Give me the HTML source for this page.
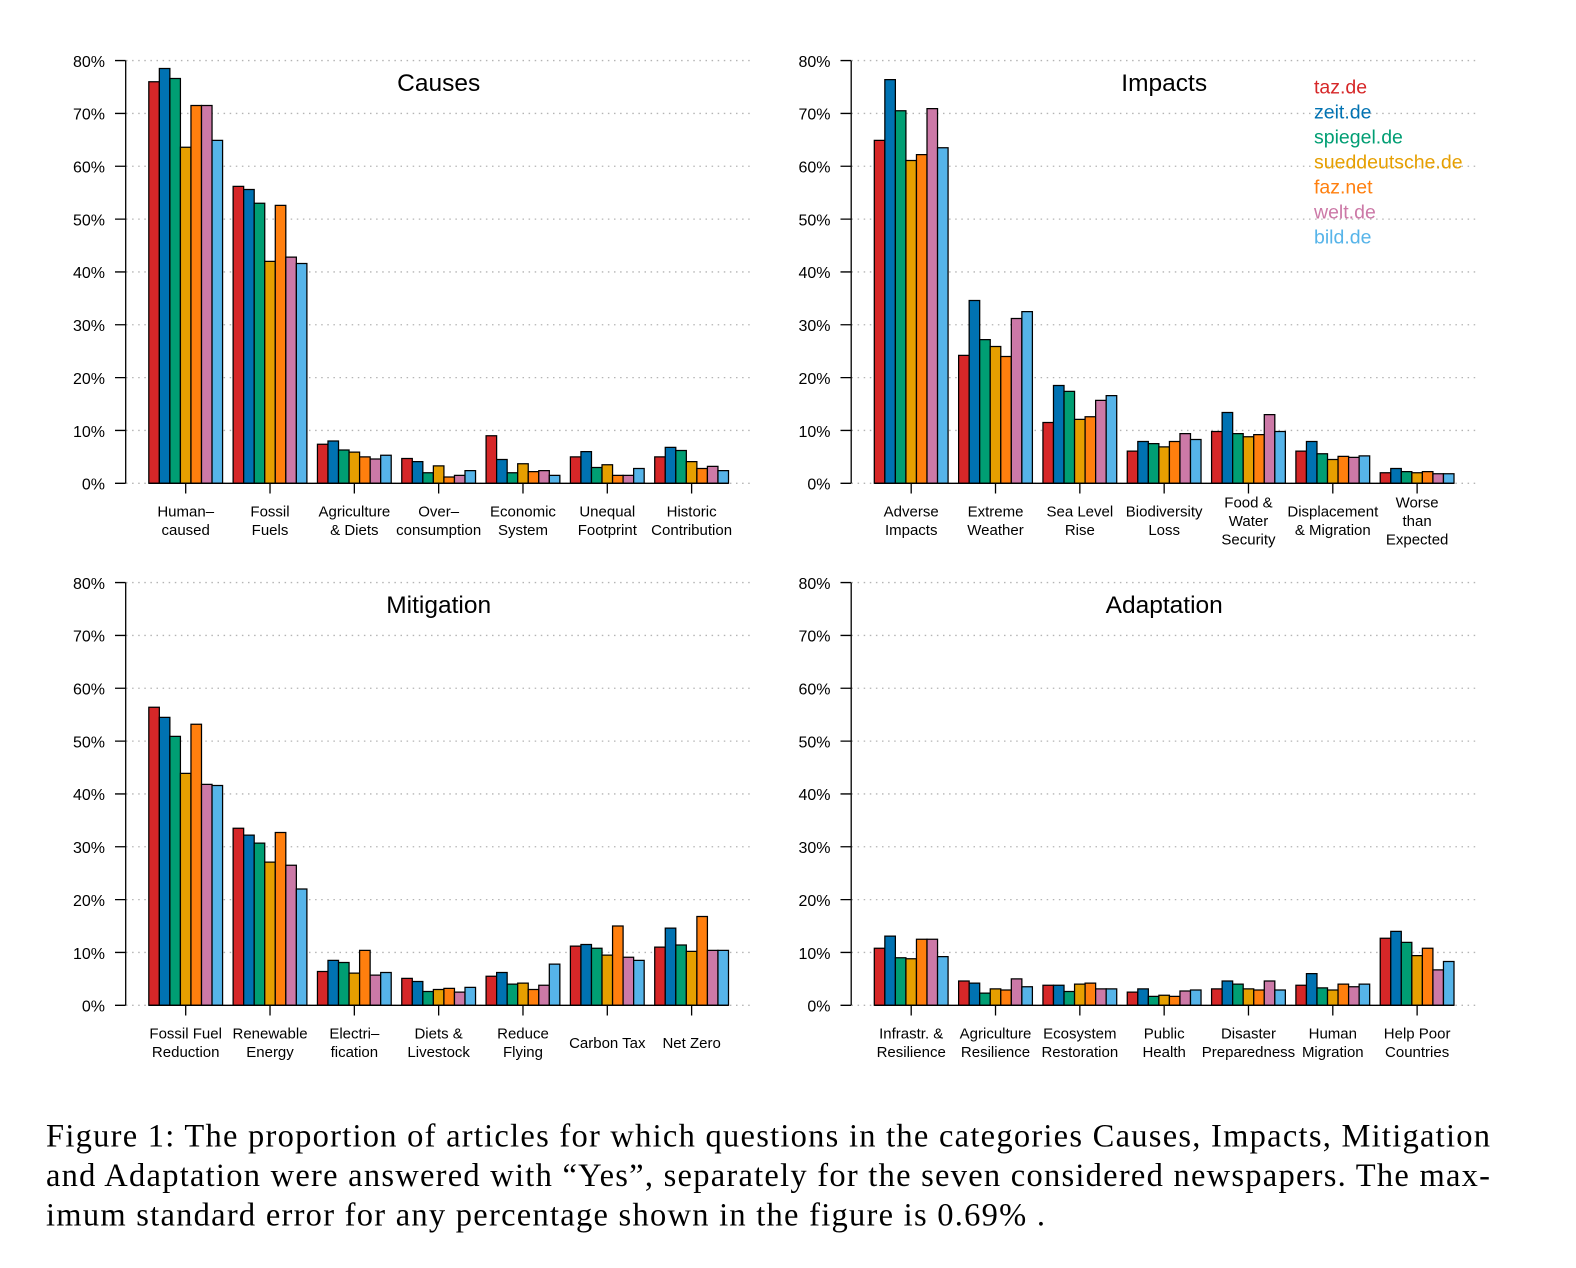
<!DOCTYPE html>
<html>
<head>
<meta charset="utf-8">
<style>
  html, body { margin: 0; padding: 0; background: #ffffff; }
  svg { display: block; }
  .sans { font-family: "Liberation Sans", Arial, Helvetica, sans-serif; }
  .serif { font-family: "Liberation Serif", "Times New Roman", serif; }
  .grid { stroke: #b4b4b4; stroke-width: 1.3; stroke-dasharray: 1.5 4.6; fill: none; }
  .ax { stroke: #000; stroke-width: 1.3; fill: none; }
  .bars rect { stroke: #000; stroke-width: 1.25; vector-effect: non-scaling-stroke; }
  .c0 { fill: #D62728; }
  .c1 { fill: #0072B2; }
  .c2 { fill: #009E73; }
  .c3 { fill: #E69F00; }
  .c4 { fill: #FF7F0E; }
  .c5 { fill: #CC79A7; }
  .c6 { fill: #56B4E9; }
  .tl { font-size: 16px; text-anchor: end; fill: #000; }
  .gl { font-size: 15px; text-anchor: middle; fill: #000; }
  .tt { font-size: 24.5px; text-anchor: middle; fill: #000; }
  .lg { font-size: 19.5px; }
</style>
</head>
<body>
<svg width="1576" height="1268" viewBox="0 0 1576 1268" xmlns="http://www.w3.org/2000/svg">
<rect x="0" y="0" width="1576" height="1268" fill="#ffffff"/>

<defs>
  <g id="frame">
    <path class="grid" d="M126 483.3H751.7M126 430.46H751.7M126 377.62H751.7M126 324.78H751.7M126 271.94H751.7M126 219.1H751.7M126 166.26H751.7M126 113.42H751.7M126 60.58H751.7"/>
  </g>
  <g id="axes">
    <path class="ax" d="M125.7 60.58V483.3M115 483.3H125.7M115 430.46H125.7M115 377.62H125.7M115 324.78H125.7M115 271.94H125.7M115 219.1H125.7M115 166.26H125.7M115 113.42H125.7M115 60.58H125.7"/>
    <path class="ax" d="M148.8 483.3H728.5M185.7 483.3V493.5M270.02 483.3V493.5M354.34 483.3V493.5M438.66 483.3V493.5M522.98 483.3V493.5M607.3 483.3V493.5M691.62 483.3V493.5"/>
  </g>
</defs>

<!-- ================= PANEL 1: Causes ================= -->
<g>
  <use href="#frame"/>
  <g class="bars" transform="translate(148.8,483.3) scale(10.54,-5.284)">
    <rect x="0" width="1" height="76.0" class="c0"/><rect x="1" width="1" height="78.5" class="c1"/><rect x="2" width="1" height="76.6" class="c2"/><rect x="3" width="1" height="63.6" class="c3"/><rect x="4" width="1" height="71.5" class="c4"/><rect x="5" width="1" height="71.5" class="c5"/><rect x="6" width="1" height="64.9" class="c6"/>
    <rect x="8" width="1" height="56.2" class="c0"/><rect x="9" width="1" height="55.6" class="c1"/><rect x="10" width="1" height="53.0" class="c2"/><rect x="11" width="1" height="42.0" class="c3"/><rect x="12" width="1" height="52.6" class="c4"/><rect x="13" width="1" height="42.8" class="c5"/><rect x="14" width="1" height="41.6" class="c6"/>
    <rect x="16" width="1" height="7.4" class="c0"/><rect x="17" width="1" height="8.0" class="c1"/><rect x="18" width="1" height="6.3" class="c2"/><rect x="19" width="1" height="5.9" class="c3"/><rect x="20" width="1" height="5.0" class="c4"/><rect x="21" width="1" height="4.6" class="c5"/><rect x="22" width="1" height="5.3" class="c6"/>
    <rect x="24" width="1" height="4.7" class="c0"/><rect x="25" width="1" height="4.1" class="c1"/><rect x="26" width="1" height="2.0" class="c2"/><rect x="27" width="1" height="3.3" class="c3"/><rect x="28" width="1" height="1.2" class="c4"/><rect x="29" width="1" height="1.5" class="c5"/><rect x="30" width="1" height="2.4" class="c6"/>
    <rect x="32" width="1" height="9.0" class="c0"/><rect x="33" width="1" height="4.5" class="c1"/><rect x="34" width="1" height="2.0" class="c2"/><rect x="35" width="1" height="3.7" class="c3"/><rect x="36" width="1" height="2.2" class="c4"/><rect x="37" width="1" height="2.4" class="c5"/><rect x="38" width="1" height="1.5" class="c6"/>
    <rect x="40" width="1" height="5.0" class="c0"/><rect x="41" width="1" height="6.0" class="c1"/><rect x="42" width="1" height="3.0" class="c2"/><rect x="43" width="1" height="3.5" class="c3"/><rect x="44" width="1" height="1.5" class="c4"/><rect x="45" width="1" height="1.5" class="c5"/><rect x="46" width="1" height="2.8" class="c6"/>
    <rect x="48" width="1" height="5.0" class="c0"/><rect x="49" width="1" height="6.8" class="c1"/><rect x="50" width="1" height="6.2" class="c2"/><rect x="51" width="1" height="4.1" class="c3"/><rect x="52" width="1" height="2.8" class="c4"/><rect x="53" width="1" height="3.2" class="c5"/><rect x="54" width="1" height="2.4" class="c6"/>
  </g>
  <use href="#axes"/>
  <g class="sans">
    <text class="tl" x="105" y="66.9">80%</text><text class="tl" x="105" y="119.7">70%</text><text class="tl" x="105" y="172.6">60%</text><text class="tl" x="105" y="225.4">50%</text><text class="tl" x="105" y="278.2">40%</text><text class="tl" x="105" y="331.1">30%</text><text class="tl" x="105" y="383.9">20%</text><text class="tl" x="105" y="436.8">10%</text><text class="tl" x="105" y="489.6">0%</text>
    <text class="tt" x="438.7" y="91">Causes</text>
    <text class="gl" x="185.7" y="516.7">Human–</text><text class="gl" x="185.7" y="535">caused</text>
    <text class="gl" x="270.02" y="516.7">Fossil</text><text class="gl" x="270.02" y="535">Fuels</text>
    <text class="gl" x="354.34" y="516.7">Agriculture</text><text class="gl" x="354.34" y="535">&amp; Diets</text>
    <text class="gl" x="438.66" y="516.7">Over–</text><text class="gl" x="438.66" y="535">consumption</text>
    <text class="gl" x="522.98" y="516.7">Economic</text><text class="gl" x="522.98" y="535">System</text>
    <text class="gl" x="607.3" y="516.7">Unequal</text><text class="gl" x="607.3" y="535">Footprint</text>
    <text class="gl" x="691.62" y="516.7">Historic</text><text class="gl" x="691.62" y="535">Contribution</text>
  </g>
</g>

<!-- ================= PANEL 2: Impacts ================= -->
<g transform="translate(725.5,0)">
  <use href="#frame"/>
  <g class="bars" transform="translate(148.8,483.3) scale(10.54,-5.284)">
    <rect x="0" width="1" height="64.9" class="c0"/><rect x="1" width="1" height="76.4" class="c1"/><rect x="2" width="1" height="70.5" class="c2"/><rect x="3" width="1" height="61.1" class="c3"/><rect x="4" width="1" height="62.2" class="c4"/><rect x="5" width="1" height="70.9" class="c5"/><rect x="6" width="1" height="63.5" class="c6"/>
    <rect x="8" width="1" height="24.2" class="c0"/><rect x="9" width="1" height="34.6" class="c1"/><rect x="10" width="1" height="27.2" class="c2"/><rect x="11" width="1" height="25.9" class="c3"/><rect x="12" width="1" height="24.0" class="c4"/><rect x="13" width="1" height="31.2" class="c5"/><rect x="14" width="1" height="32.5" class="c6"/>
    <rect x="16" width="1" height="11.5" class="c0"/><rect x="17" width="1" height="18.5" class="c1"/><rect x="18" width="1" height="17.4" class="c2"/><rect x="19" width="1" height="12.1" class="c3"/><rect x="20" width="1" height="12.6" class="c4"/><rect x="21" width="1" height="15.7" class="c5"/><rect x="22" width="1" height="16.6" class="c6"/>
    <rect x="24" width="1" height="6.1" class="c0"/><rect x="25" width="1" height="7.9" class="c1"/><rect x="26" width="1" height="7.5" class="c2"/><rect x="27" width="1" height="6.9" class="c3"/><rect x="28" width="1" height="7.9" class="c4"/><rect x="29" width="1" height="9.4" class="c5"/><rect x="30" width="1" height="8.3" class="c6"/>
    <rect x="32" width="1" height="9.8" class="c0"/><rect x="33" width="1" height="13.4" class="c1"/><rect x="34" width="1" height="9.4" class="c2"/><rect x="35" width="1" height="8.8" class="c3"/><rect x="36" width="1" height="9.2" class="c4"/><rect x="37" width="1" height="13.0" class="c5"/><rect x="38" width="1" height="9.8" class="c6"/>
    <rect x="40" width="1" height="6.1" class="c0"/><rect x="41" width="1" height="7.9" class="c1"/><rect x="42" width="1" height="5.6" class="c2"/><rect x="43" width="1" height="4.5" class="c3"/><rect x="44" width="1" height="5.1" class="c4"/><rect x="45" width="1" height="4.9" class="c5"/><rect x="46" width="1" height="5.2" class="c6"/>
    <rect x="48" width="1" height="2.0" class="c0"/><rect x="49" width="1" height="2.8" class="c1"/><rect x="50" width="1" height="2.2" class="c2"/><rect x="51" width="1" height="2.0" class="c3"/><rect x="52" width="1" height="2.2" class="c4"/><rect x="53" width="1" height="1.8" class="c5"/><rect x="54" width="1" height="1.8" class="c6"/>
  </g>
  <use href="#axes"/>
  <g class="sans">
    <text class="tl" x="105" y="66.9">80%</text><text class="tl" x="105" y="119.7">70%</text><text class="tl" x="105" y="172.6">60%</text><text class="tl" x="105" y="225.4">50%</text><text class="tl" x="105" y="278.2">40%</text><text class="tl" x="105" y="331.1">30%</text><text class="tl" x="105" y="383.9">20%</text><text class="tl" x="105" y="436.8">10%</text><text class="tl" x="105" y="489.6">0%</text>
    <text class="tt" x="438.7" y="91">Impacts</text>
    <text class="gl" x="185.7" y="516.7">Adverse</text><text class="gl" x="185.7" y="535">Impacts</text>
    <text class="gl" x="270.02" y="516.7">Extreme</text><text class="gl" x="270.02" y="535">Weather</text>
    <text class="gl" x="354.34" y="516.7">Sea Level</text><text class="gl" x="354.34" y="535">Rise</text>
    <text class="gl" x="438.66" y="516.7">Biodiversity</text><text class="gl" x="438.66" y="535">Loss</text>
    <text class="gl" x="522.98" y="507.5">Food &amp;</text><text class="gl" x="522.98" y="525.9">Water</text><text class="gl" x="522.98" y="544.3">Security</text>
    <text class="gl" x="607.3" y="516.7">Displacement</text><text class="gl" x="607.3" y="535">&amp; Migration</text>
    <text class="gl" x="691.62" y="507.5">Worse</text><text class="gl" x="691.62" y="525.9">than</text><text class="gl" x="691.62" y="544.3">Expected</text>
  </g>
</g>

<!-- Legend -->
<g class="sans lg">
  <text x="1314" y="93.3" fill="#D62728">taz.de</text>
  <text x="1314" y="118.3" fill="#0072B2">zeit.de</text>
  <text x="1314" y="143.3" fill="#009E73">spiegel.de</text>
  <text x="1314" y="168.3" fill="#E69F00">sueddeutsche.de</text>
  <text x="1314" y="193.3" fill="#FF7F0E">faz.net</text>
  <text x="1314" y="218.3" fill="#CC79A7">welt.de</text>
  <text x="1314" y="243.3" fill="#56B4E9">bild.de</text>
</g>

<!-- ================= PANEL 3: Mitigation ================= -->
<g transform="translate(0,522)">
  <use href="#frame"/>
  <g class="bars" transform="translate(148.8,483.3) scale(10.54,-5.284)">
    <rect x="0" width="1" height="56.4" class="c0"/><rect x="1" width="1" height="54.5" class="c1"/><rect x="2" width="1" height="50.9" class="c2"/><rect x="3" width="1" height="43.9" class="c3"/><rect x="4" width="1" height="53.2" class="c4"/><rect x="5" width="1" height="41.8" class="c5"/><rect x="6" width="1" height="41.6" class="c6"/>
    <rect x="8" width="1" height="33.5" class="c0"/><rect x="9" width="1" height="32.2" class="c1"/><rect x="10" width="1" height="30.7" class="c2"/><rect x="11" width="1" height="27.1" class="c3"/><rect x="12" width="1" height="32.7" class="c4"/><rect x="13" width="1" height="26.5" class="c5"/><rect x="14" width="1" height="22.0" class="c6"/>
    <rect x="16" width="1" height="6.4" class="c0"/><rect x="17" width="1" height="8.5" class="c1"/><rect x="18" width="1" height="8.1" class="c2"/><rect x="19" width="1" height="6.1" class="c3"/><rect x="20" width="1" height="10.4" class="c4"/><rect x="21" width="1" height="5.7" class="c5"/><rect x="22" width="1" height="6.2" class="c6"/>
    <rect x="24" width="1" height="5.1" class="c0"/><rect x="25" width="1" height="4.5" class="c1"/><rect x="26" width="1" height="2.6" class="c2"/><rect x="27" width="1" height="3.0" class="c3"/><rect x="28" width="1" height="3.2" class="c4"/><rect x="29" width="1" height="2.5" class="c5"/><rect x="30" width="1" height="3.4" class="c6"/>
    <rect x="32" width="1" height="5.5" class="c0"/><rect x="33" width="1" height="6.2" class="c1"/><rect x="34" width="1" height="4.0" class="c2"/><rect x="35" width="1" height="4.2" class="c3"/><rect x="36" width="1" height="3.0" class="c4"/><rect x="37" width="1" height="3.8" class="c5"/><rect x="38" width="1" height="7.8" class="c6"/>
    <rect x="40" width="1" height="11.2" class="c0"/><rect x="41" width="1" height="11.5" class="c1"/><rect x="42" width="1" height="10.8" class="c2"/><rect x="43" width="1" height="9.5" class="c3"/><rect x="44" width="1" height="15.0" class="c4"/><rect x="45" width="1" height="9.1" class="c5"/><rect x="46" width="1" height="8.5" class="c6"/>
    <rect x="48" width="1" height="11.0" class="c0"/><rect x="49" width="1" height="14.6" class="c1"/><rect x="50" width="1" height="11.4" class="c2"/><rect x="51" width="1" height="10.2" class="c3"/><rect x="52" width="1" height="16.8" class="c4"/><rect x="53" width="1" height="10.4" class="c5"/><rect x="54" width="1" height="10.4" class="c6"/>
  </g>
  <use href="#axes"/>
  <g class="sans">
    <text class="tl" x="105" y="66.9">80%</text><text class="tl" x="105" y="119.7">70%</text><text class="tl" x="105" y="172.6">60%</text><text class="tl" x="105" y="225.4">50%</text><text class="tl" x="105" y="278.2">40%</text><text class="tl" x="105" y="331.1">30%</text><text class="tl" x="105" y="383.9">20%</text><text class="tl" x="105" y="436.8">10%</text><text class="tl" x="105" y="489.6">0%</text>
    <text class="tt" x="438.7" y="91">Mitigation</text>
    <text class="gl" x="185.7" y="516.7">Fossil Fuel</text><text class="gl" x="185.7" y="535">Reduction</text>
    <text class="gl" x="270.02" y="516.7">Renewable</text><text class="gl" x="270.02" y="535">Energy</text>
    <text class="gl" x="354.34" y="516.7">Electri–</text><text class="gl" x="354.34" y="535">fication</text>
    <text class="gl" x="438.66" y="516.7">Diets &amp;</text><text class="gl" x="438.66" y="535">Livestock</text>
    <text class="gl" x="522.98" y="516.7">Reduce</text><text class="gl" x="522.98" y="535">Flying</text>
    <text class="gl" x="607.3" y="525.9">Carbon Tax</text>
    <text class="gl" x="691.62" y="525.9">Net Zero</text>
  </g>
</g>

<!-- ================= PANEL 4: Adaptation ================= -->
<g transform="translate(725.5,522)">
  <use href="#frame"/>
  <g class="bars" transform="translate(148.8,483.3) scale(10.54,-5.284)">
    <rect x="0" width="1" height="10.8" class="c0"/><rect x="1" width="1" height="13.1" class="c1"/><rect x="2" width="1" height="9.0" class="c2"/><rect x="3" width="1" height="8.8" class="c3"/><rect x="4" width="1" height="12.5" class="c4"/><rect x="5" width="1" height="12.5" class="c5"/><rect x="6" width="1" height="9.2" class="c6"/>
    <rect x="8" width="1" height="4.6" class="c0"/><rect x="9" width="1" height="4.2" class="c1"/><rect x="10" width="1" height="2.3" class="c2"/><rect x="11" width="1" height="3.1" class="c3"/><rect x="12" width="1" height="2.9" class="c4"/><rect x="13" width="1" height="5.0" class="c5"/><rect x="14" width="1" height="3.5" class="c6"/>
    <rect x="16" width="1" height="3.8" class="c0"/><rect x="17" width="1" height="3.8" class="c1"/><rect x="18" width="1" height="2.6" class="c2"/><rect x="19" width="1" height="4.0" class="c3"/><rect x="20" width="1" height="4.2" class="c4"/><rect x="21" width="1" height="3.1" class="c5"/><rect x="22" width="1" height="3.1" class="c6"/>
    <rect x="24" width="1" height="2.5" class="c0"/><rect x="25" width="1" height="3.1" class="c1"/><rect x="26" width="1" height="1.7" class="c2"/><rect x="27" width="1" height="1.9" class="c3"/><rect x="28" width="1" height="1.7" class="c4"/><rect x="29" width="1" height="2.7" class="c5"/><rect x="30" width="1" height="2.9" class="c6"/>
    <rect x="32" width="1" height="3.1" class="c0"/><rect x="33" width="1" height="4.6" class="c1"/><rect x="34" width="1" height="4.0" class="c2"/><rect x="35" width="1" height="3.1" class="c3"/><rect x="36" width="1" height="2.9" class="c4"/><rect x="37" width="1" height="4.6" class="c5"/><rect x="38" width="1" height="2.9" class="c6"/>
    <rect x="40" width="1" height="3.8" class="c0"/><rect x="41" width="1" height="6.0" class="c1"/><rect x="42" width="1" height="3.3" class="c2"/><rect x="43" width="1" height="2.9" class="c3"/><rect x="44" width="1" height="4.0" class="c4"/><rect x="45" width="1" height="3.5" class="c5"/><rect x="46" width="1" height="4.0" class="c6"/>
    <rect x="48" width="1" height="12.7" class="c0"/><rect x="49" width="1" height="14.0" class="c1"/><rect x="50" width="1" height="11.9" class="c2"/><rect x="51" width="1" height="9.4" class="c3"/><rect x="52" width="1" height="10.8" class="c4"/><rect x="53" width="1" height="6.7" class="c5"/><rect x="54" width="1" height="8.3" class="c6"/>
  </g>
  <use href="#axes"/>
  <g class="sans">
    <text class="tl" x="105" y="66.9">80%</text><text class="tl" x="105" y="119.7">70%</text><text class="tl" x="105" y="172.6">60%</text><text class="tl" x="105" y="225.4">50%</text><text class="tl" x="105" y="278.2">40%</text><text class="tl" x="105" y="331.1">30%</text><text class="tl" x="105" y="383.9">20%</text><text class="tl" x="105" y="436.8">10%</text><text class="tl" x="105" y="489.6">0%</text>
    <text class="tt" x="438.7" y="91">Adaptation</text>
    <text class="gl" x="185.7" y="516.7">Infrastr. &amp;</text><text class="gl" x="185.7" y="535">Resilience</text>
    <text class="gl" x="270.02" y="516.7">Agriculture</text><text class="gl" x="270.02" y="535">Resilience</text>
    <text class="gl" x="354.34" y="516.7">Ecosystem</text><text class="gl" x="354.34" y="535">Restoration</text>
    <text class="gl" x="438.66" y="516.7">Public</text><text class="gl" x="438.66" y="535">Health</text>
    <text class="gl" x="522.98" y="516.7">Disaster</text><text class="gl" x="522.98" y="535">Preparedness</text>
    <text class="gl" x="607.3" y="516.7">Human</text><text class="gl" x="607.3" y="535">Migration</text>
    <text class="gl" x="691.62" y="516.7">Help Poor</text><text class="gl" x="691.62" y="535">Countries</text>
  </g>
</g>

<!-- ================= Caption ================= -->
<g class="serif" font-size="32.5" fill="#000">
  <text x="46" y="1146.7" textLength="1444" lengthAdjust="spacing">Figure 1: The proportion of articles for which questions in the categories Causes, Impacts, Mitigation</text>
  <text x="46" y="1186" textLength="1444" lengthAdjust="spacing">and Adaptation were answered with “Yes”, separately for the seven considered newspapers. The max-</text>
  <text x="46" y="1225.3" textLength="999" lengthAdjust="spacing">imum standard error for any percentage shown in the figure is 0.69% .</text>
</g>
</svg>
</body>
</html>
